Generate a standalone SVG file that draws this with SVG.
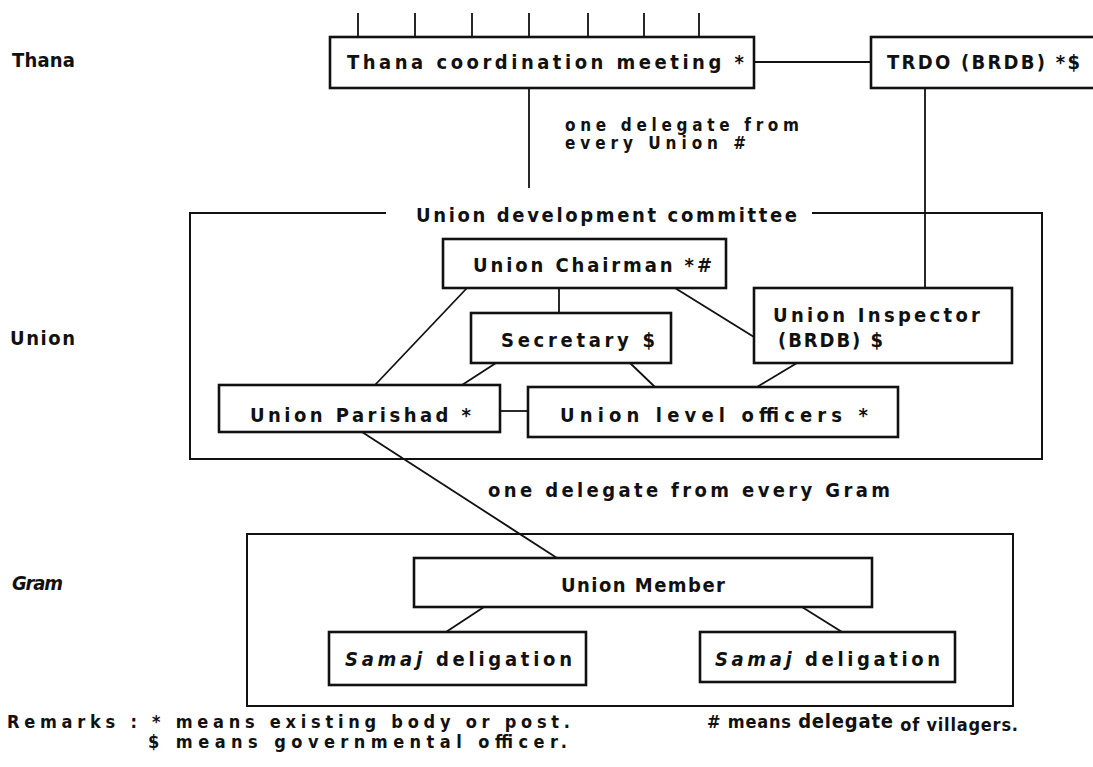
<svg xmlns="http://www.w3.org/2000/svg" width="1093" height="767" viewBox="0 0 1093 767">
<style>
  text { font-family: "DejaVu Sans Condensed", "Liberation Sans Narrow", "Liberation Sans", sans-serif; font-size: 20px; font-weight: bold; fill: #111; }
  .sm { font-size: 18px; }
  .xs { font-size: 17px; }
  .it { font-style: italic; }
  .box { fill: #fff; stroke: #111; stroke-width: 2.6; }
  .frame { fill: none; stroke: #111; stroke-width: 2; }
  .ln { stroke: #111; stroke-width: 1.8; fill: none; }
</style>
<rect width="1093" height="767" fill="#fff"/>

<g id="level-labels">
  <text x="12" y="67" textLength="63" lengthAdjust="spacing">Thana</text>
  <text x="10" y="345" textLength="65" lengthAdjust="spacing">Union</text>
  <text x="12" y="590" class="it" textLength="51" lengthAdjust="spacing">Gram</text>
</g>

<g id="frames">
  <path class="frame" d="M386,213 H190 V459 H1042 V213 H812"/>
  <text x="416" y="222" textLength="381" lengthAdjust="spacing">Union development committee</text>
  <rect class="frame" x="247" y="534" width="766" height="172"/>
</g>

<g id="connectors">
  <path class="ln" d="M358,13 V37 M415,13 V37 M472,13 V37 M529,13 V37 M588,13 V37 M644,13 V37 M699,13 V37"/>
  <path class="ln" d="M754,62 H871"/>
  <path class="ln" d="M529,88 V188"/>
  <path class="ln" d="M925,88 V288"/>
  <path class="ln" d="M559,288 V313"/>
  <path class="ln" d="M467,288 L375,385"/>
  <path class="ln" d="M675,288 L754,337"/>
  <path class="ln" d="M496,363 L462,385"/>
  <path class="ln" d="M630,363 L655,387"/>
  <path class="ln" d="M797,363 L757,387"/>
  <path class="ln" d="M500,411 H528"/>
  <path class="ln" d="M362,432 L557,558"/>
  <path class="ln" d="M484,607 L446,632"/>
  <path class="ln" d="M802,607 L842,632"/>
  <text class="xs" x="565" y="131" textLength="234" lengthAdjust="spacing">one delegate from</text>
  <text class="xs" x="565" y="149" textLength="181" lengthAdjust="spacing">every Union #</text>
  <text x="488" y="497" textLength="402" lengthAdjust="spacing">one delegate from every Gram</text>
</g>

<g id="thana-meeting">
  <rect class="box" x="330" y="37" width="424" height="51"/>
  <text x="347" y="69" textLength="397" lengthAdjust="spacing">Thana coordination meeting *</text>
</g>

<g id="trdo">
  <rect class="box" x="871" y="37" width="240" height="51"/>
  <text x="887" y="69" textLength="193" lengthAdjust="spacing">TRDO (BRDB) *$</text>
</g>

<g id="union-chairman">
  <rect class="box" x="443" y="239" width="283" height="49"/>
  <text x="473" y="272" textLength="239" lengthAdjust="spacing">Union Chairman *#</text>
</g>

<g id="secretary">
  <rect class="box" x="471" y="313" width="200" height="50"/>
  <text x="501" y="347" textLength="154" lengthAdjust="spacing">Secretary $</text>
</g>

<g id="union-inspector">
  <rect class="box" x="754" y="288" width="258" height="75"/>
  <text x="773" y="322" textLength="207" lengthAdjust="spacing">Union Inspector</text>
  <text x="778" y="347" textLength="105" lengthAdjust="spacing">(BRDB) $</text>
</g>

<g id="union-parishad">
  <rect class="box" x="219" y="385" width="281" height="47"/>
  <text x="250" y="422" textLength="221" lengthAdjust="spacing">Union Parishad *</text>
</g>

<g id="union-level-officers">
  <rect class="box" x="528" y="387" width="370" height="50"/>
  <text x="560" y="422" textLength="308" lengthAdjust="spacing">Union level officers *</text>
</g>

<g id="union-member">
  <rect class="box" x="414" y="558" width="458" height="49"/>
  <text x="561" y="592" textLength="164" lengthAdjust="spacing">Union Member</text>
</g>

<g id="samaj-left">
  <rect class="box" x="329" y="632" width="257" height="53"/>
  <text x="345" y="666" textLength="227" lengthAdjust="spacing"><tspan class="it">Samaj</tspan> deligation</text>
</g>

<g id="samaj-right">
  <rect class="box" x="700" y="632" width="255" height="50"/>
  <text x="715" y="666" textLength="225" lengthAdjust="spacing"><tspan class="it">Samaj</tspan> deligation</text>
</g>

<g id="remarks">
  <text class="sm" x="7" y="728" textLength="563" lengthAdjust="spacing">Remarks : * means existing body or post.</text>
  <text class="sm" x="707" y="728" textLength="311" lengthAdjust="spacing"># means <tspan font-size="20">delegate</tspan> <tspan dy="3">of villagers.</tspan></text>
  <text class="sm" x="148" y="748" textLength="419" lengthAdjust="spacing">$ means governmental officer.</text>
</g>
</svg>
